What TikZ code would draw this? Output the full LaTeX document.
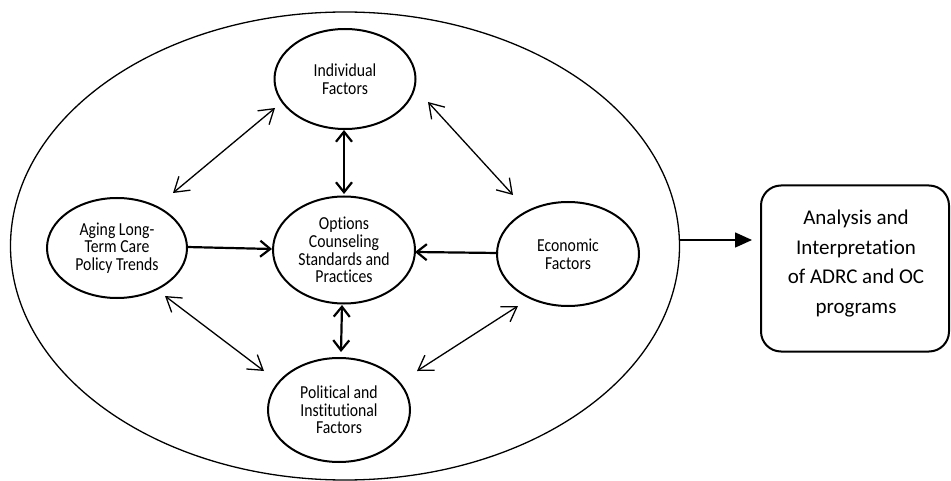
\documentclass[tikz,border=0pt]{standalone}
\usepackage{fontspec}
\setmainfont{Carlito}[Ligatures=NoCommon]
\newfontfamily\condfont[FakeStretch=0.86,Ligatures=NoCommon]{Carlito}
\usetikzlibrary{shapes.geometric,arrows.meta,calc}
\begin{document}
\begin{tikzpicture}[x=1pt,y=-1pt,
  circ/.style={ellipse, draw, line width=2pt, inner sep=0pt, align=center,
    font=\condfont\fontsize{18.3}{17.6}\selectfont},
  outerell/.style={ellipse, draw, line width=1.3pt, inner sep=0pt},
  boxnode/.style={draw, rounded corners=20pt, line width=2pt},
  boxtext/.style={align=center, inner sep=0pt, font=\fontsize{21}{29.5}\selectfont},
  thinarr/.style={line width=1.3pt,
    {Straight Barb[length=14pt,width=18pt]}-{Straight Barb[length=14pt,width=18pt]}},
  thickarr/.style={line width=2.2pt,
    {Straight Barb[length=10pt,width=16pt]}-{Straight Barb[length=10pt,width=16pt]}},
  thickone/.style={line width=2.2pt, -{Straight Barb[length=10pt,width=16pt]}},
  outarr/.style={line width=1.5pt, -{Triangle[length=17pt,width=15pt]}}
]
\useasboundingbox (0,0) rectangle (951,481);

\node[outerell, minimum width=669pt, minimum height=468pt] (outer) at (345,246) {};

\node[circ, minimum width=141pt, minimum height=100pt] (ind) at (345,79) {Individual\\Factors};
\node[circ, minimum width=142pt, minimum height=107pt] (opt) at (344,250) {Options\\Counseling\\Standards and\\Practices};
\node[circ, minimum width=140pt, minimum height=100pt] (agi) at (117,248) {Aging Long-\\Term Care\\Policy Trends};
\node[circ, minimum width=142pt, minimum height=104pt] (eco) at (568,254) {Economic\\Factors};
\node[circ, minimum width=142pt, minimum height=104pt] (pol) at (339,410) {Political and\\Institutional\\Factors};

\node[boxnode, minimum width=188pt, minimum height=166pt] (ana) at (855,268.5) {};
\node[boxtext] (anat) at ($(ana)+(1,-5)$) {Analysis and\\Interpretation\\of ADRC and OC\\programs};

% thick connectors
\draw[thickarr] ($(ind)+(-1,51)$) -- ($(opt)+(0,-56)$);
\draw[thickone] ($(agi)+(70,-1)$) -- ($(opt)+(-72,-1)$);
\draw[thickone] ($(eco)+(-70,-1)$) -- ($(opt)+(71,2)$);
\draw[thickarr] ($(opt)+(-2,55)$) -- ($(pol)+(2,-58)$);

% thin diagonal connectors
\draw[thinarr] ($(agi)+(56,-55)$) -- ($(ind)+(-70,29)$);
\draw[thinarr] ($(ind)+(83,23)$) -- ($(eco)+(-55,-59)$);
\draw[thinarr] ($(agi)+(48,48)$) -- ($(pol)+(-75,-39)$);
\draw[thinarr] ($(eco)+(-50,52)$) -- ($(pol)+(78,-39)$);

% output arrow
\draw[outarr] ($(outer.east)+(0,-6)$) -- ($(ana.west)+(-8,-28.5)$);
\end{tikzpicture}
\end{document}
